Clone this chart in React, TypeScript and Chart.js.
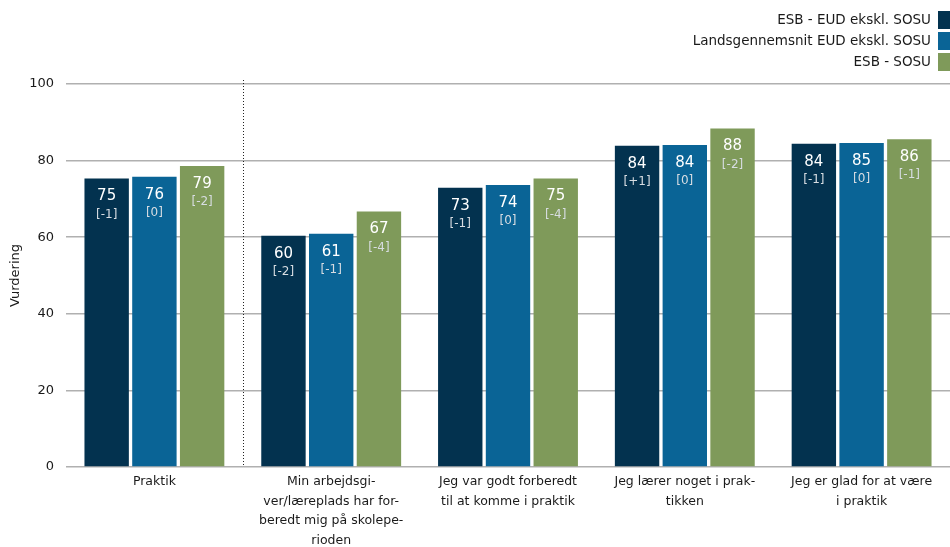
import React, { useEffect, useRef } from "react";
import { Chart, registerables } from "chart.js";

Chart.register(...registerables);

const categories: string[][] = [
  ["Praktik"],
  ["Min arbejdsgi-", "ver/læreplads har for-", "beredt mig på skolepe-", "rioden"],
  ["Jeg var godt forberedt", "til at komme i praktik"],
  ["Jeg lærer noget i prak-", "tikken"],
  ["Jeg er glad for at være", "i praktik"],
];

const seriesNames = ["ESB - EUD ekskl. SOSU", "Landsgennemsnit EUD ekskl. SOSU", "ESB - SOSU"];
const seriesColors = ["#03324F", "#0A6496", "#7F9A5A"];

const esbEud = [75.3, 60.4, 72.9, 83.9, 84.4];
const landsEud = [75.8, 60.9, 73.6, 84.1, 84.6];
const esbSosu = [78.6, 66.7, 75.3, 88.4, 85.6];

const esbEudDiff = ["[-1]", "[-2]", "[-1]", "[+1]", "[-1]"];
const landsEudDiff = ["[0]", "[-1]", "[0]", "[0]", "[0]"];
const esbSosuDiff = ["[-2]", "[-4]", "[-4]", "[-2]", "[-1]"];

const yTicks = [0, 20, 40, 60, 80, 100];

const FONT = "DejaVu Sans";

export default function App() {
  const ref = useRef<HTMLCanvasElement>(null);

  useEffect(() => {
    document.body.style.margin = "0";
    const diffs = [esbEudDiff, landsEudDiff, esbSosuDiff];

    const labelPlugin = {
      id: "barLabels",
      afterDatasetsDraw(chart: any) {
        const ctx = chart.ctx;
        ctx.save();
        ctx.textAlign = "center";
        ctx.textBaseline = "middle";
        chart.data.datasets.forEach((ds: any, di: number) => {
          const meta = chart.getDatasetMeta(di);
          meta.data.forEach((el: any, i: number) => {
            const v = ds.data[i];
            ctx.fillStyle = "#ffffff";
            ctx.font = `15px ${FONT}`;
            ctx.fillText(String(Math.round(v)), el.x, el.y + 18);
            ctx.fillStyle = "#d8dde2";
            ctx.font = `12px ${FONT}`;
            ctx.fillText(diffs[di][i], el.x, el.y + 36);
          });
        });
        ctx.restore();
      },
    };

    const extrasPlugin = {
      id: "extras",
      afterDraw(chart: any) {
        const ctx = chart.ctx;
        const xs = chart.scales.x;
        const ys = chart.scales.y;
        const sx = Math.round(xs.getPixelForValue(0.5)) + 0.5;
        ctx.save();
        ctx.strokeStyle = "#222";
        ctx.lineWidth = 1;
        ctx.setLineDash([1, 2]);
        ctx.beginPath();
        ctx.moveTo(sx, ys.getPixelForValue(100) - 4);
        ctx.lineTo(sx, ys.getPixelForValue(0));
        ctx.stroke();
        ctx.setLineDash([]);
        ctx.font = `13.5px ${FONT}`;
        ctx.textAlign = "right";
        ctx.textBaseline = "middle";
        seriesNames.forEach((name, i) => {
          const cy = 20 + i * 21;
          ctx.fillStyle = "#1a1a1a";
          ctx.fillText(name, 931, cy);
          ctx.fillStyle = seriesColors[i];
          ctx.fillRect(938, cy - 9, 12, 18);
        });
        ctx.restore();
      },
    };

    const chart = new Chart(ref.current!, {
      type: "bar",
      data: {
        labels: categories,
        datasets: [
          { label: seriesNames[0], data: esbEud, backgroundColor: seriesColors[0] },
          { label: seriesNames[1], data: landsEud, backgroundColor: seriesColors[1] },
          { label: seriesNames[2], data: esbSosu, backgroundColor: seriesColors[2] },
        ],
      },
      options: {
        animation: false,
        responsive: false,
        devicePixelRatio: 1,
        layout: { padding: { top: 84, right: 0, left: 2, bottom: 0 } },
        datasets: { bar: { categoryPercentage: 0.81, barPercentage: 0.93 } },
        plugins: { legend: { display: false }, tooltip: { enabled: false } },
        scales: {
          x: {
            grid: { display: false, drawTicks: false },
            border: { display: false },
            afterFit(scale: any) {
              scale.height = 80;
            },
            ticks: {
              color: "#1a1a1a",
              font: { family: FONT, size: 12.5, lineHeight: "19.5px" },
              maxRotation: 0,
              autoSkip: false,
              padding: 5,
            },
          },
          y: {
            min: 0,
            max: 100,
            afterBuildTicks(axis: any) {
              axis.ticks = yTicks.map((v) => ({ value: v }));
            },
            afterFit(scale: any) {
              scale.width = 64;
            },
            grid: { color: "#b0b0b0", lineWidth: 1.5, drawTicks: false },
            border: { display: false },
            ticks: { color: "#1a1a1a", font: { family: FONT, size: 13 }, padding: 12 },
            title: {
              display: true,
              text: "Vurdering",
              color: "#1a1a1a",
              font: { family: FONT, size: 13 },
              padding: { top: 6, bottom: 0 },
            },
          },
        },
      },
      plugins: [labelPlugin, extrasPlugin],
    });
    return () => chart.destroy();
  }, []);

  return (
    <div style={{ width: 950, height: 547 }}>
      <canvas ref={ref} width={950} height={547} style={{ display: "block" }} />
    </div>
  );
}
